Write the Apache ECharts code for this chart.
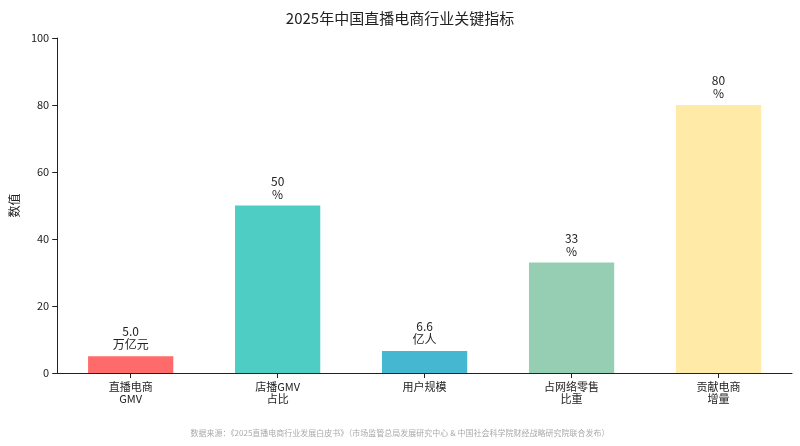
<!DOCTYPE html>
<html><head><meta charset="utf-8">
<script src="https://cdn.jsdelivr.net/npm/echarts@6/dist/echarts.min.js"></script>
<style>body{margin:0}#c{width:800px;height:446px}</style>
</head><body><div id="c"></div>
<script>
const categories = ['直播电商\nGMV', '店播GMV\n占比', '用户规模', '占网络零售\n比重', '贡献电商\n增量'];
const values = [5.0, 50, 6.6, 33, 80];
const units = ['万亿元', '%', '亿人', '%', '%'];
const colors = ['#FF6B6B', '#4ECDC4', '#45B7D1', '#96CEB4', '#FFEAA7'];
const font = '"Noto Sans CJK SC", sans-serif';

const chart = echarts.init(document.getElementById('c'));
chart.setOption({
  textStyle: { fontFamily: font },
  title: {
    text: '2025年中国直播电商行业关键指标', left: 'center', top: 6,
    textStyle: { fontSize: 15, fontWeight: 'normal', color: '#222' }
  },
  graphic: [{
    type: 'text', left: 'center', top: 429,
    style: { text: '数据来源：《2025直播电商行业发展白皮书》（市场监管总局发展研究中心 & 中国社会科学院财经战略研究院联合发布）',
      fontSize: 8, fill: '#aaa', fontFamily: font }
  }],
  grid: { left: 52, right: 8, top: 38, bottom: 73 },
  xAxis: {
    type: 'category', data: categories,
    axisTick: { show: true, alignWithLabel: true, lineStyle: { color: '#222' } },
    axisLine: { lineStyle: { color: '#222' } },
    axisLabel: { color: '#222', fontSize: 11, lineHeight: 12 }
  },
  yAxis: {
    type: 'value', min: 0, max: 100, interval: 20,
    name: '数值', nameLocation: 'middle', nameGap: 32,
    nameTextStyle: { color: '#222', fontSize: 12 },
    splitLine: { show: false },
    axisLine: { show: true, lineStyle: { color: '#222' } },
    axisTick: { show: true },
    axisLabel: { color: '#222', fontSize: 11 }
  },
  series: [{
    type: 'bar', barWidth: '58%',
    data: values.map((v, i) => ({ value: v, itemStyle: { color: colors[i] } })),
    label: {
      show: true, position: 'top', color: '#222', fontSize: 12, lineHeight: 13,
      formatter: p => (p.dataIndex === 0 || p.dataIndex === 2 ? p.value.toFixed(1) : p.value) + '\n' + units[p.dataIndex]
    }
  }]
});
</script></body></html>
